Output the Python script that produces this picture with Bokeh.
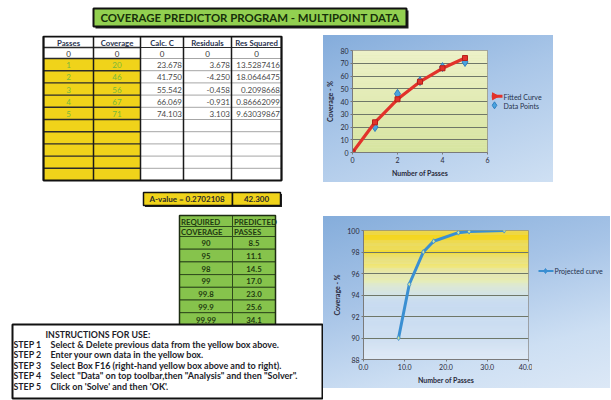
from bokeh.plotting import figure
from bokeh.models import Range1d, Spacer, PrintfTickFormatter, FixedTicker
from bokeh.layouts import column, row
from bokeh.core.properties import value
from bokeh.embed import file_html
from bokeh.resources import INLINE

# ---------------- data ----------------
headers = ["Passes", "Coverage", "Calc. C", "Residuals", "Res Squared"]
passes = [0, 1, 2, 3, 4, 5]
coverage = [0, 20, 46, 56, 67, 71]
calc_c = [0.0, 23.678, 41.750, 55.542, 66.069, 74.103]
residuals = [0.0, 3.678, -4.250, -0.458, -0.931, 3.103]
res_squared = ["0", "13.5287416", "18.0646475", "0.2098668", "0.86662099", "9.63039867"]
a_value = "0.2702108"
sum_sq = "42.300"
req_header = ["REQUIRED", "COVERAGE"]
pred_header = ["PREDICTED", "PASSES"]
required_coverage = [90, 95, 98, 99, 99.8, 99.9, 99.99]
predicted_passes = [8.5, 11.1, 14.5, 17.0, 23.0, 25.6, 34.1]
title_text = "COVERAGE PREDICTOR PROGRAM - MULTIPOINT DATA"
instr_title = "INSTRUCTIONS FOR USE:"
step_labels = ["STEP 1", "STEP 2", "STEP 3", "STEP 4", "STEP 5"]
step_texts = [
    "Select & Delete previous data from the yellow box above.",
    "Enter your own data in the yellow box.",
    "Select Box F16 (right-hand yellow box above and to right).",
    "Select \"Data\" on top toolbar,then \"Analysis\" and then \"Solver\".",
    "Click on 'Solve' and then 'OK'.",
]
chart1_legend = ["Fitted Curve", "Data Points"]
chart2_legend = ["Projected curve"]
chart1_xticks = [0, 2, 4, 6]
chart1_yticks = [0, 10, 20, 30, 40, 50, 60, 70, 80]
chart2_xticks = [0, 10, 20, 30, 40]
chart2_yticks = [88, 90, 92, 94, 96, 98, 100]

FONT = "Lato"
YELLOW = "#f0d31a"
GREEN = "#86c34c"
TXT = "#1e2433"
RED = "#e2322b"
BLUE = "#4aa3df"
CURVE2 = "#3a8fd2"


def bare(width, height, xr, yr, fill="white"):
    f = figure(width=width, height=height, x_range=Range1d(*xr), y_range=Range1d(*yr),
               x_axis_type=None, y_axis_type=None, output_backend="svg",
               toolbar_location=None, min_border=0, outline_line_color=None,
               border_fill_color=fill, background_fill_color=fill)
    return f


def txt(f, x, y, s, size="7px", align="center", color=TXT, bold=False):
    f.text(x=[x], y=[y], text=[s], text_font=value(FONT), text_font_size=size,
           text_align=align, text_baseline="middle", text_color=color,
           text_font_style="bold" if bold else "normal")


# ---------------- title strip (page y 0..35) ----------------
tf = bare(610, 35, (0, 610), (35, 0))
tf.quad(left=[95], right=[408], top=[10], bottom=[28], fill_color="#222", line_color=None)
tf.quad(left=[93], right=[406], top=[8], bottom=[26], fill_color="#92d050",
        line_color="#111", line_width=2)
txt(tf, 249.5, 17.3, title_text, size="11.4px", color="#17300a", bold=True)

# ---------------- left sheet (page x 0..323, y 35..400) ----------------
lf = bare(323, 365, (0, 323), (400, 35))
col_x = [43, 93, 140, 183, 231, 281]
row_y = [36, 47, 58] + [58 + 12.2 * (i + 1) for i in range(10)]
nrows = len(row_y) - 1
L, R, T, B, C = [], [], [], [], []
for r in range(nrows):
    for c in range(5):
        L.append(col_x[c]); R.append(col_x[c + 1]); T.append(row_y[r]); B.append(row_y[r + 1])
        C.append(YELLOW if (r >= 2 and c < 2) else "white")
lf.quad(left=L, right=R, top=T, bottom=B, fill_color=C, line_color=None)
for i, y in enumerate(row_y[1:-1]):
    lf.segment(x0=[col_x[0]], y0=[y], x1=[col_x[2]], y1=[y], line_color="#2b2b2b", line_width=1.4)
    lf.segment(x0=[col_x[2]], y0=[y], x1=[col_x[5]], y1=[y],
               line_color="#2b2b2b" if i < 1 else "#9c9c9c", line_width=1.2 if i < 1 else 0.9)
for x in col_x:
    lf.segment(x0=[x], y0=[row_y[0]], x1=[x], y1=[row_y[-1]], line_color="#1a1a1a", line_width=1.5)
lf.quad(left=[col_x[0]], right=[col_x[-1]], top=[row_y[0]], bottom=[row_y[-1]],
        fill_color=None, line_color="#111", line_width=2)
for c, h in enumerate(headers):
    txt(lf, (col_x[c] + col_x[c + 1]) / 2, (row_y[0] + row_y[1]) / 2 + 0.5, h, size="7.8px",
        color="#2a3350", bold=True)
for i in range(len(passes)):
    yc = (row_y[i + 1] + row_y[i + 2]) / 2 + 0.5
    if i == 0:
        for c, s in enumerate([passes[i], coverage[i], 0, 0, res_squared[i]]):
            txt(lf, (col_x[c] + col_x[c + 1]) / 2, yc, str(s), size="8px", color="#333")
        continue
    txt(lf, (col_x[0] + col_x[1]) / 2, yc, str(passes[i]), size="8px", color="#78b83a")
    txt(lf, (col_x[1] + col_x[2]) / 2, yc, str(coverage[i]), size="8px", color="#78b83a")
    txt(lf, col_x[3] - 1.5, yc, "%.3f" % calc_c[i], size="8px", align="right", color="#4a4a4a")
    txt(lf, col_x[4] - 1.5, yc, "%.3f" % residuals[i], size="8px", align="right", color="#4a4a4a")
    txt(lf, col_x[5] - 1.5, yc, res_squared[i], size="8px", align="right", color="#4a4a4a")

# A-value box
lf.quad(left=[144.5], right=[281.5], top=[193.5], bottom=[206.5], fill_color="#222", line_color=None)
lf.quad(left=[143, 232], right=[232, 280], top=[192, 192], bottom=[205, 205],
        fill_color=YELLOW, line_color="#111", line_width=1.5)
txt(lf, 187.5, 198.8, "A-value =  " + a_value, size="8px", color="#2a2a2a", bold=True)
txt(lf, 256, 198.8, sum_sq, size="8px", color="#2a2a2a", bold=True)

# green prediction table
gx = [179, 232, 275]
gy = [215, 226, 236] + [236 + 12.7 * (i + 1) for i in range(7)]
GL, GR, GT, GB = [], [], [], []
for r in range(len(gy) - 1):
    for c in range(2):
        GL.append(gx[c]); GR.append(gx[c + 1]); GT.append(gy[r]); GB.append(gy[r + 1])
lf.quad(left=GL, right=GR, top=GT, bottom=GB, fill_color=GREEN, line_color="#2f4a1c", line_width=1)
lf.quad(left=[gx[0]], right=[gx[-1]], top=[gy[0]], bottom=[gy[-1]], fill_color=None,
        line_color="#1d2d12", line_width=1.5)
for k in range(2):
    yc = (gy[k] + gy[k + 1]) / 2 + 0.5
    txt(lf, gx[0] + 1.5, yc, req_header[k], size="7.8px", align="left", color="#1f3a10", bold=True)
    txt(lf, gx[1] + 1.5, yc, pred_header[k], size="7.8px", align="left", color="#1f3a10", bold=True)
for i in range(len(required_coverage)):
    yc = (gy[i + 2] + gy[i + 3]) / 2 + 0.5
    txt(lf, (gx[0] + gx[1]) / 2, yc, "%g" % required_coverage[i], size="7.8px", color="#1f3a10", bold=True)
    txt(lf, (gx[1] + gx[2]) / 2, yc, "%.1f" % predicted_passes[i], size="7.8px", color="#1f3a10", bold=True)

# instructions box
lf.quad(left=[12], right=[322], top=[324], bottom=[398], fill_color="white",
        line_color="#111", line_width=2)
txt(lf, 45, 334, instr_title, size="8.8px", align="left", color="#1d1d2a", bold=True)
for i, (lab, s) in enumerate(zip(step_labels, step_texts)):
    yy = 344 + 10.4 * i
    txt(lf, 13, yy, lab, size="8.8px", align="left", color="#1d1d2a", bold=True)
    txt(lf, 50, yy, s, size="9px", align="left", color="#1d1d2a", bold=True)


# ---------------- helpers for charts ----------------
def hex2rgb(h):
    h = h.lstrip("#")
    return [int(h[i:i + 2], 16) for i in (0, 2, 4)]


def lerp_color(stops, t):
    for (t0, c0), (t1, c1) in zip(stops[:-1], stops[1:]):
        if t0 <= t <= t1:
            a = (t - t0) / (t1 - t0) if t1 > t0 else 0
            r0, r1 = hex2rgb(c0), hex2rgb(c1)
            return "#%02x%02x%02x" % tuple(int(round(r0[j] + (r1[j] - r0[j]) * a)) for j in range(3))
    return stops[-1][1]


def style_chart(f):
    for ax in f.axis:
        ax.major_label_text_font = FONT
        ax.major_label_text_font_size = "7px"
        ax.major_label_text_color = "#2a2a3a"
        ax.axis_label_text_font = FONT
        ax.axis_label_text_font_size = "7px"
        ax.axis_label_text_font_style = "bold"
        ax.axis_label_text_color = "#2a2a3a"
        ax.axis_line_color = "#7a7a7a"
        ax.major_tick_line_color = "#7a7a7a"
        ax.major_tick_out = 2
        ax.major_tick_in = 0
        ax.minor_tick_line_color = None
        ax.major_label_standoff = 2
        ax.axis_label_standoff = 3
    f.xgrid.visible = False
    f.ygrid.grid_line_color = "#6f7768"
    f.ygrid.grid_line_width = 1


# ---------------- chart 1 (page x 323..553, y 35..182) ----------------
c1 = figure(width=168, height=147, x_range=Range1d(0, 6), y_range=Range1d(0, 80),
            output_backend="svg", toolbar_location=None,
            min_border_left=29, min_border_right=4, min_border_top=15, min_border_bottom=30,
            border_fill_color=None, background_fill_color="#e2eab3",
            outline_line_color="#8c8c8c")
n = 40
c1.quad(left=[0] * n, right=[6] * n,
        bottom=[80 * i / n for i in range(n)], top=[80 * (i + 1) / n for i in range(n)],
        fill_color=[lerp_color([(0, "#d6e4a0"), (0.5, "#e2ebb4"), (1, "#edf1c9")], (i + 0.5) / n) for i in range(n)],
        line_color=None, level="image")
c1.xaxis.ticker = FixedTicker(ticks=chart1_xticks)
c1.yaxis.ticker = FixedTicker(ticks=chart1_yticks)
c1.ygrid.ticker = FixedTicker(ticks=chart1_yticks)
c1.xaxis.axis_label = "Number of Passes"
c1.yaxis.axis_label = "Coverage - %"
style_chart(c1)
c1.scatter(passes, coverage, marker="diamond", size=9, fill_color=BLUE, line_color="#2f7fc0")
c1.line(passes, calc_c, line_color=RED, line_width=3.2)
c1.scatter(passes, calc_c, marker="square", size=5, fill_color=RED, line_color="#b51f19")

leg1 = bare(62, 147, (491, 553), (182, 35), fill=None)
leg1.line(x=[491, 502], y=[101, 101], line_color=RED, line_width=3)
leg1.scatter(x=[494], y=[101], marker="triangle", angle=-1.5708, size=7, fill_color=RED, line_color=RED)
txt(leg1, 503, 101.5, chart1_legend[0], size="7px", align="left", color="#24304a")
leg1.scatter(x=[494], y=[114], marker="diamond", size=7, fill_color=BLUE, line_color="#2f7fc0")
txt(leg1, 503, 114.5, chart1_legend[1], size="7px", align="left", color="#24304a")

# ---------------- chart 2 (page x 323..610, y 216..388) ----------------
c2 = figure(width=209, height=172, x_range=Range1d(0, 40), y_range=Range1d(88, 100),
            output_backend="svg", toolbar_location=None,
            min_border_left=40, min_border_right=4, min_border_top=14, min_border_bottom=29,
            border_fill_color=None, background_fill_color="#d3e2f2",
            outline_line_color="#8c8c8c")
n = 120
stops2 = [(0, "#e2ecf7"), (0.15, "#cfdff1"), (0.45, "#c6daf0"), (0.5, "#d2e3e8"),
          (0.6, "#e4ecbd"), (0.7, "#eee88a"), (0.82, "#f2dd3e"), (1, "#f5d318")]
c2.quad(left=[0] * n, right=[40] * n,
        bottom=[88 + 12 * i / n for i in range(n)], top=[88 + 12 * (i + 1) / n for i in range(n)],
        fill_color=[lerp_color(stops2, (i + 0.5) / n) for i in range(n)],
        line_color=None, level="image")
c2.xaxis.ticker = FixedTicker(ticks=chart2_xticks)
c2.xaxis.formatter = PrintfTickFormatter(format="%.1f")
c2.yaxis.ticker = FixedTicker(ticks=chart2_yticks)
c2.ygrid.ticker = FixedTicker(ticks=chart2_yticks)
c2.xaxis.axis_label = "Number of Passes"
c2.yaxis.axis_label = "Coverage - %"
style_chart(c2)
c2.line(predicted_passes, required_coverage, line_color=CURVE2, line_width=3)
c2.scatter(predicted_passes, required_coverage, marker="diamond", size=5,
           fill_color="#cfe3a0", line_color=CURVE2, line_width=0.8)

leg2 = bare(78, 172, (532, 610), (388, 216), fill=None)
leg2.line(x=[538, 553], y=[270, 270], line_color=CURVE2, line_width=2)
leg2.scatter(x=[545], y=[270], marker="diamond", size=5, fill_color=CURVE2, line_color=CURVE2)
txt(leg2, 554, 270.5, chart2_legend[0], size="7px", align="left", color="#24304a")

G1 = "linear-gradient(160deg, #84acdb 0%, #a9c6e8 45%, #cfe0f3 100%)"
G2 = "linear-gradient(165deg, #85addb 0%, #a7c4e7 40%, #cddff3 75%, #dce8f6 100%)"
row1 = row(c1, leg1, spacing=0, styles={"background": G1})
row2 = row(c2, leg2, spacing=0, styles={"background": G2})
right_col = column(row1, Spacer(width=287, height=34), row2, spacing=0)
body = row(lf, right_col, spacing=0)
page = column(tf, body, spacing=0)

open("out.html", "w").write(file_html(page, INLINE))
